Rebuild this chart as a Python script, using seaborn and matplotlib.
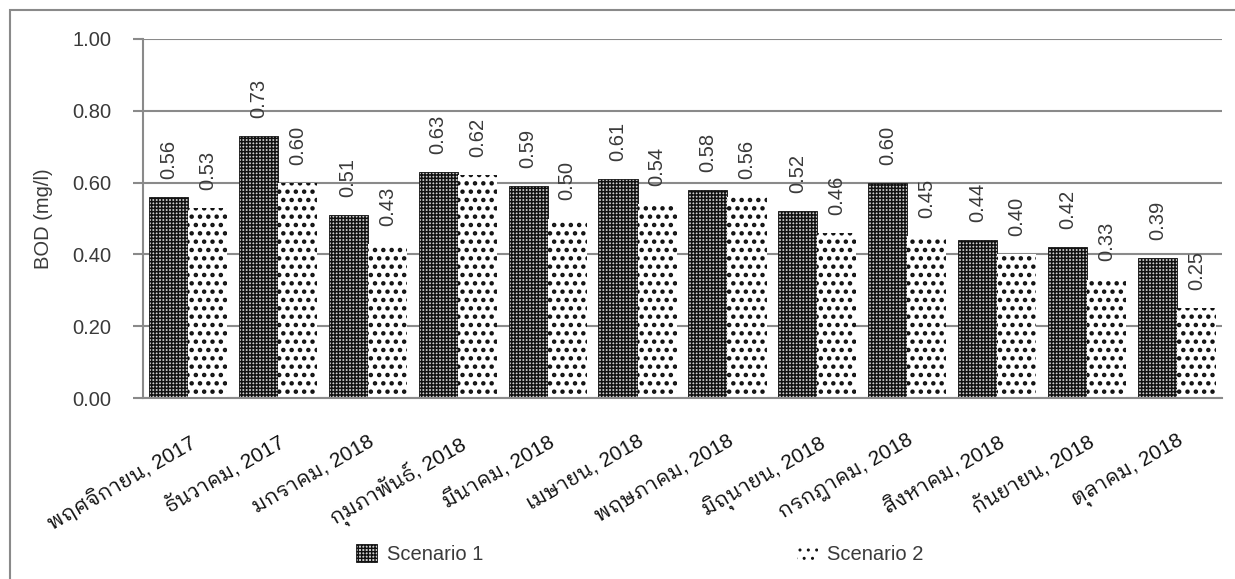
import matplotlib
matplotlib.use("Agg")
import matplotlib.pyplot as plt
from matplotlib import font_manager
from matplotlib.ft2font import FT2Font
from matplotlib.patches import Rectangle
import seaborn as sns
import pandas as pd

# Monthly BOD readings for the two scenarios
months = [
    "พฤศจิกายน, 2017", "ธันวาคม, 2017", "มกราคม, 2018", "กุมภาพันธ์, 2018",
    "มีนาคม, 2018", "เมษายน, 2018", "พฤษภาคม, 2018", "มิถุนายน, 2018",
    "กรกฎาคม, 2018", "สิงหาคม, 2018", "กันยายน, 2018", "ตุลาคม, 2018",
]
scenario_names = ["Scenario 1", "Scenario 2"]
scenario1 = [0.56, 0.73, 0.51, 0.63, 0.59, 0.61, 0.58, 0.52, 0.60, 0.44, 0.42, 0.39]
scenario2 = [0.53, 0.60, 0.43, 0.62, 0.50, 0.54, 0.56, 0.46, 0.45, 0.40, 0.33, 0.25]
y_ticks = [0.0, 0.2, 0.4, 0.6, 0.8, 1.0]
y_label = "BOD (mg/l)"


def thai_capable_families():
    """Font families installed here that carry Thai glyphs, looped faces first."""
    names = []
    for entry in font_manager.fontManager.ttflist:
        if entry.name in names:
            continue
        try:
            cmap = FT2Font(entry.fname).get_charmap()
        except Exception:
            continue
        if 0x0E01 in cmap and 0x0E4C in cmap:
            names.append(entry.name)

    def rank(n):
        if "Looped" in n:
            return 0
        if "Thai" in n:
            return 1
        return 2

    names.sort(key=lambda n: (rank(n), n))
    return names


sns.set_style("white")
plt.rcParams["font.family"] = ["Liberation Sans"] + thai_capable_families() + ["DejaVu Sans"]

text_color = "#3a3a3a"
line_color = "#8a8a8a"
fs = 14.5

df = pd.DataFrame({
    "month": months * 2,
    "BOD": scenario1 + scenario2,
    "scenario": [scenario_names[0]] * len(months) + [scenario_names[1]] * len(months),
})

fig = plt.figure(figsize=(12.35, 5.79), dpi=100)
ax = fig.add_axes([143 / 1235, 1 - 398 / 579, (1222 - 143) / 1235, (398 - 39) / 579])

sns.barplot(
    data=df, x="month", y="BOD", hue="scenario", hue_order=scenario_names,
    order=months, palette=["#cfcfcf", "white"], saturation=1,
    width=0.87, gap=0, legend=False, ax=ax, errorbar=None,
)

# Fill patterns: dense dark mesh for scenario 1, scattered dots for scenario 2
styles = [
    dict(facecolor="#cfcfcf", edgecolor="#111111", hatch="+++++", linewidth=0.6, hatch_lw=1.1),
    dict(facecolor="white", edgecolor="#111111", hatch="..", linewidth=0.0, hatch_lw=2.0),
]


def set_hatch_width(patch, width):
    if hasattr(patch, "set_hatch_linewidth"):
        patch.set_hatch_linewidth(width)
    else:
        patch._hatch_linewidth = width


for container, style, values in zip(ax.containers, styles, [scenario1, scenario2]):
    for bar in container:
        bar.set_facecolor(style["facecolor"])
        bar.set_edgecolor(style["edgecolor"])
        bar.set_hatch(style["hatch"])
        bar.set_linewidth(style["linewidth"])
        set_hatch_width(bar, style["hatch_lw"])
    ax.bar_label(container, labels=[f"{v:.2f}" for v in values], rotation=90,
                 padding=13, fontsize=fs, color=text_color)

ax.set_ylim(0, 1.0)
ax.set_yticks(y_ticks)
ax.set_yticklabels([f"{t:.2f}" for t in y_ticks])
ax.set_xlim(-0.5, len(months) - 0.5)
ax.yaxis.grid(True, color=line_color, linewidth=1.5)
ax.set_axisbelow(True)

for side in ["top", "right"]:
    ax.spines[side].set_visible(False)
for side in ["left", "bottom"]:
    ax.spines[side].set_color(line_color)
    ax.spines[side].set_linewidth(1.5)

ax.tick_params(axis="y", length=7, width=1.5, color=line_color, pad=16,
               labelsize=fs, labelcolor=text_color, left=True)
ax.tick_params(axis="x", length=0, pad=24, labelsize=15, labelcolor="#111111")
plt.setp(ax.get_xticklabels(), rotation=30, ha="right", va="top",
         rotation_mode="anchor")

ax.set_xlabel("")
ax.set_ylabel(y_label, fontsize=fs, color=text_color)
ax.yaxis.set_label_coords(-0.083, 0.5)

handles = [ax.containers[0][0], ax.containers[1][0]]
fig.legend(handles, scenario_names, loc="center", ncol=2,
           bbox_to_anchor=(640 / 1235, 1 - 554 / 579), frameon=False,
           fontsize=fs, labelcolor=text_color, handlelength=1.05,
           handleheight=1.02, handletextpad=0.45, columnspacing=15.6)

# Chart frame (left and top edges fall inside the canvas)
fig.add_artist(Rectangle((10 / 1235, -0.2), 1.3, 1.2 - 10 / 579,
                         transform=fig.transFigure, fill=False,
                         edgecolor=line_color, linewidth=1.5))

fig.savefig("out.png", dpi=100)
